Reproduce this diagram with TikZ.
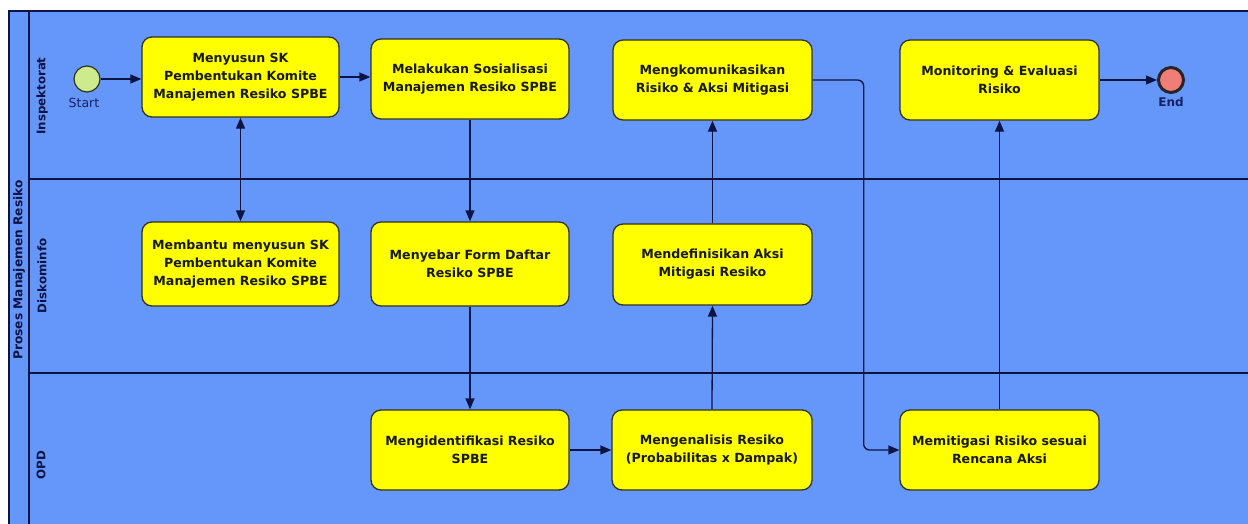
\documentclass[tikz,border=0pt]{standalone}
\usepackage{fontspec}
\setmainfont{DejaVu Sans}
\usetikzlibrary{arrows.meta}
\definecolor{poolblue}{RGB}{101,150,250}
\definecolor{navy}{RGB}{12,20,70}
\definecolor{taskyellow}{RGB}{255,255,0}
\definecolor{taskborder}{RGB}{50,50,30}
\definecolor{startgreen}{RGB}{205,235,140}
\definecolor{endred}{RGB}{240,125,120}
\definecolor{labelnavy}{RGB}{20,35,100}
\tikzset{
  task/.style={rectangle, rounded corners=10pt, draw=taskborder, fill=taskyellow,
    line width=1.3pt, align=center, inner sep=2pt,
    font=\bfseries\fontsize{12.6}{18}\selectfont, text=black!90},
  flow/.style={draw=navy, line width=1.3pt, -{Triangle[length=11pt,width=9pt]}},
  biflow/.style={draw=navy, line width=1.3pt, {Triangle[length=11pt,width=9pt]}-{Triangle[length=11pt,width=9pt]}},
  lanelabel/.style={rotate=90, font=\bfseries\fontsize{11.8}{14}\selectfont, text=navy},
  evlabel/.style={font=\fontsize{12.5}{14}\selectfont, text=labelnavy},
  laneline/.style={draw=navy, line width=1.2pt}
}
\begin{document}
\begin{tikzpicture}[x=1pt,y=-1pt]
\useasboundingbox (0,0) rectangle (1248,523);
% pool
\fill[white] (0,0) rectangle (1248,523);
\fill[poolblue] (9,11) rectangle (1262,540);
\draw[navy, line width=1.8pt] (1262,11) -- (9,11) -- (9,540);
\draw[navy, line width=1.8pt] (29,11) -- (29,540);
\draw[laneline] (29,179) -- (1262,179);
\draw[laneline] (29,373) -- (1262,373);
\node[lanelabel, font=\bfseries\fontsize{12.2}{14}\selectfont] (pool) at (19,270) {Proses Manajemen Resiko};
\node[lanelabel] (lane1) at (42,96) {Inspektorat};
\node[lanelabel] (lane2) at (42,276) {Diskominfo};
\node[lanelabel] (lane3) at (41,465) {OPD};
% events
\node[circle, draw=taskborder, line width=1.2pt, fill=startgreen, minimum size=26pt, inner sep=0pt] (start) at (87,79) {};
\node[evlabel] (startlbl) at (84,103) {Start};
\node[circle, draw=black!85, line width=3pt, fill=endred, minimum size=25pt, inner sep=0pt] (end) at (1171,80) {};
\node[evlabel, font=\bfseries\fontsize{12}{14}\selectfont] (endlbl) at (1171,102) {End};
% tasks
\node[task, minimum width=197pt, minimum height=80pt] (t1) at (240.5,77) {Menyusun SK\\Pembentukan Komite\\Manajemen Resiko SPBE};
\node[task, minimum width=198pt, minimum height=80pt] (t2) at (470,79) {Melakukan Sosialisasi\\Manajemen Resiko SPBE};
\node[task, minimum width=199pt, minimum height=80pt] (t3) at (712.5,80) {Mengkomunikasikan\\Risiko \& Aksi Mitigasi};
\node[task, minimum width=199pt, minimum height=80pt] (t4) at (999.5,80) {Monitoring \& Evaluasi\\Risiko};
\node[task, minimum width=197pt, minimum height=84pt] (t5) at (240.5,264) {Membantu menyusun SK\\Pembentukan Komite\\Manajemen Resiko SPBE};
\node[task, minimum width=198pt, minimum height=84pt] (t6) at (470,264) {Menyebar Form Daftar\\Resiko SPBE};
\node[task, minimum width=199pt, minimum height=81pt] (t7) at (712.5,264.5) {Mendefinisikan Aksi\\Mitigasi Resiko};
\node[task, minimum width=198pt, minimum height=80pt] (t8) at (470,450) {Mengidentifikasi Resiko\\SPBE};
\node[task, minimum width=200pt, minimum height=80pt] (t9) at (712,450) {Mengenalisis Resiko\\(Probabilitas x Dampak)};
\node[task, minimum width=199pt, minimum height=80pt] (t10) at (999.5,450) {Memitigasi Risiko sesuai\\Rencana Aksi};
% flows
\draw[flow] (start.east) -- (start.east -| t1.west);
\draw[flow] (t1.east) -- (t1.east -| t2.west);
\draw[biflow] (t1.south) -- (t5.north);
\draw[flow] (t2.south) -- (t6.north);
\draw[flow] (t6.south) -- (t8.north);
\draw[flow] (t8.east) -- (t9.west);
\draw[flow] (t9.north) -- (t7.south);
\draw[flow] (t7.north) -- (t3.south);
\draw[flow, rounded corners=6pt] (t3.east) -- ++(51,0) |- (t10.west);
\draw[flow] (t10.north) -- (t4.south);
\draw[flow] (t4.east) -- (end.west);
\end{tikzpicture}
\end{document}
